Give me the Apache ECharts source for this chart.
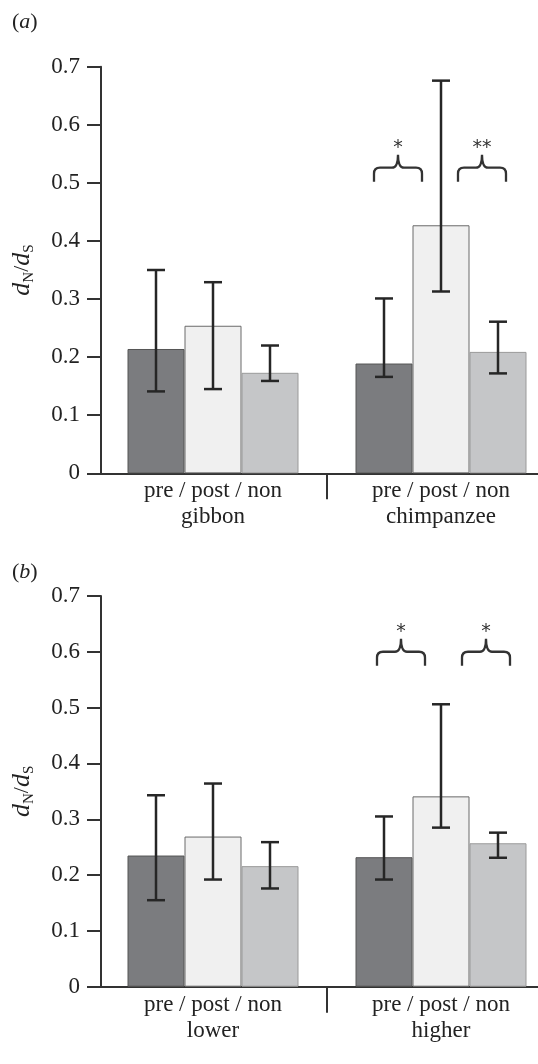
<!DOCTYPE html>
<html><head><meta charset="utf-8">
<script src="https://cdn.jsdelivr.net/npm/echarts@6/dist/echarts.min.js"></script>
<style>html,body{margin:0;padding:0;background:#fff;overflow:hidden}#c{width:556px;height:1064px}</style>
</head><body><div id="c"></div>
<script>
// ---------- data ----------
const groupsA = ['gibbon', 'chimpanzee'];
const groupsB = ['lower', 'higher'];
const subLabel = 'pre / post / non';
const yTickLabels = ['0', '0.1', '0.2', '0.3', '0.4', '0.5', '0.6', '0.7'];

const preA  = [0.214, 0.189];
const postA = [0.254, 0.427];
const nonA  = [0.173, 0.209];
const errPreA  = [[0.141, 0.350], [0.166, 0.301]];
const errPostA = [[0.145, 0.329], [0.313, 0.676]];
const errNonA  = [[0.159, 0.220], [0.172, 0.261]];

const preB  = [0.235, 0.232];
const postB = [0.269, 0.341];
const nonB  = [0.216, 0.257];
const errPreB  = [[0.155, 0.343], [0.192, 0.305]];
const errPostB = [[0.192, 0.364], [0.285, 0.506]];
const errNonB  = [[0.176, 0.259], [0.231, 0.276]];

const sigA = ['*', '**'];
const sigB = ['*', '*'];
const braceLevelA = 0.502;
const braceLevelB = 0.575;

// ---------- styles ----------
const FONT = 'Liberation Serif';
const barW = 57;
const fills = ['#7b7c7f', '#f0f0f0', '#c5c6c8'];
const borders = ['#555555', '#6a6a6a', '#9a9a9a'];
const ink = '#262626';

function errSeries(err, k, gi) {
  return {
    type: 'custom', xAxisIndex: gi, yAxisIndex: gi, z: 5,
    data: err.map((e, i) => [i, e[0], e[1]]),
    encode: { x: 0, y: [1, 2] },
    renderItem: function (params, api) {
      const lo = api.coord([api.value(0), api.value(1)]);
      const hi = api.coord([api.value(0), api.value(2)]);
      const x = lo[0] + (k - 1) * barW;
      const cap = 9;
      const st = { stroke: ink, lineWidth: 2.5 };
      return { type: 'group', children: [
        { type: 'line', shape: { x1: x, y1: hi[1], x2: x, y2: lo[1] }, style: st },
        { type: 'line', shape: { x1: x - cap, y1: hi[1], x2: x + cap, y2: hi[1] }, style: st },
        { type: 'line', shape: { x1: x - cap, y1: lo[1], x2: x + cap, y2: lo[1] }, style: st }
      ] };
    }
  };
}

// separator tick between the two category bands, placed through the axis scale
function sepSeries(gi) {
  return {
    type: 'custom', xAxisIndex: gi, yAxisIndex: gi, z: 4, silent: true,
    data: [[1, 0]],
    encode: { x: 0, y: 1 },
    renderItem: function (params, api) {
      const p = api.coord([api.value(0), api.value(1)]);
      const band = api.size([1, 0])[0];
      const x = p[0] - band / 2;
      return { type: 'line', shape: { x1: x, y1: p[1], x2: x, y2: p[1] + 26 },
        style: { stroke: '#333', lineWidth: 2 } };
    }
  };
}

function braceSeries(sig, level, offsets, gi) {
  return {
    type: 'custom', xAxisIndex: gi, yAxisIndex: gi, z: 6,
    data: sig.map((s, i) => [1, level, i]),
    encode: { x: 0, y: 1 },
    renderItem: function (params, api) {
      const p = api.coord([api.value(0), api.value(1)]);
      const idx = api.value(2);
      const cx = p[0] + offsets[idx];
      const y0 = p[1];
      const h = 24, r = 6;
      const yh = y0 - 14, yp = y0 - 27;
      const d = 'M' + (cx - h) + ' ' + y0 +
        ' L' + (cx - h) + ' ' + (yh + r) +
        ' Q' + (cx - h) + ' ' + yh + ' ' + (cx - h + r) + ' ' + yh +
        ' L' + (cx - r) + ' ' + yh +
        ' Q' + cx + ' ' + yh + ' ' + cx + ' ' + yp +
        ' Q' + cx + ' ' + yh + ' ' + (cx + r) + ' ' + yh +
        ' L' + (cx + h - r) + ' ' + yh +
        ' Q' + (cx + h) + ' ' + yh + ' ' + (cx + h) + ' ' + (yh + r) +
        ' L' + (cx + h) + ' ' + y0;
      return { type: 'group', children: [
        { type: 'path', shape: { pathData: d }, style: { stroke: '#333', lineWidth: 2.3, fill: null } },
        { type: 'text', style: { text: sig[idx], x: cx, y: y0 - 34, align: 'center', verticalAlign: 'middle',
          fontFamily: 'DejaVu Sans', fontSize: 19, fill: '#333' } }
      ] };
    }
  };
}

function barSeries(vals, k, gi, name) {
  return {
    type: 'bar', name: name, xAxisIndex: gi, yAxisIndex: gi, data: vals,
    barWidth: barW, barGap: '0%', z: 2,
    itemStyle: { color: fills[k], borderColor: borders[k], borderWidth: 1 }
  };
}

function xAxisFor(cats, gi) {
  return {
    type: 'category', gridIndex: gi, data: cats,
    axisLine: { lineStyle: { color: '#333', width: 2 } },
    axisTick: { show: false },
    axisLabel: { interval: 0, margin: 5, fontFamily: FONT, fontSize: 23, color: '#222', lineHeight: 26,
      formatter: function (v) { return subLabel + '\n' + v; } },
    splitLine: { show: false }
  };
}

function yAxisFor(gi) {
  return {
    type: 'value', gridIndex: gi, min: 0, max: 0.7, interval: 0.1, offset: -2,
    name: '{d|d}{s|N}{n|/}{d|d}{s|S}',
    nameLocation: 'middle', nameRotate: 90, nameGap: 64,
    nameTextStyle: { color: '#222', rich: {
      d: { fontFamily: FONT, fontSize: 26, fontStyle: 'italic', color: '#222', lineHeight: 28 },
      n: { fontFamily: FONT, fontSize: 22, color: '#222', lineHeight: 28 },
      s: { fontFamily: FONT, fontSize: 15, color: '#222', padding: [14, 0, 0, 0] }
    } },
    axisLine: { show: true, lineStyle: { color: '#333', width: 2 } },
    axisTick: { show: true, length: 14, lineStyle: { color: '#333', width: 2 } },
    axisLabel: { margin: 21, fontFamily: FONT, fontSize: 23, color: '#222',
      formatter: function (v) { return yTickLabels[Math.round(v * 10)]; } },
    splitLine: { show: false }
  };
}

const titleRich = {
  p: { fontFamily: FONT, fontSize: 22, fontWeight: 'normal', color: '#222' },
  i: { fontFamily: FONT, fontSize: 22, fontWeight: 'normal', fontStyle: 'italic', color: '#222' }
};

const chart = echarts.init(document.getElementById('c'), null, { renderer: 'canvas' });
chart.setOption({
  backgroundColor: '#ffffff',
  animation: false,
  title: [
    { text: '{p|(}{i|a}{p|)}', left: 7, top: 6, textStyle: { fontWeight: 'normal', rich: titleRich } },
    { text: '{p|(}{i|b}{p|)}', left: 7, top: 556, textStyle: { fontWeight: 'normal', rich: titleRich } }
  ],
  grid: [
    { left: 99, top: 66.7, width: 456, height: 406.6 },
    { left: 99, top: 596, width: 456, height: 390.7 }
  ],
  xAxis: [xAxisFor(groupsA, 0), xAxisFor(groupsB, 1)],
  yAxis: [yAxisFor(0), yAxisFor(1)],
  series: [
    barSeries(preA, 0, 0, 'pre'), barSeries(postA, 1, 0, 'post'), barSeries(nonA, 2, 0, 'non'),
    errSeries(errPreA, 0, 0), errSeries(errPostA, 1, 0), errSeries(errNonA, 2, 0),
    braceSeries(sigA, braceLevelA, [-43, 41], 0), sepSeries(0),
    barSeries(preB, 0, 1, 'pre'), barSeries(postB, 1, 1, 'post'), barSeries(nonB, 2, 1, 'non'),
    errSeries(errPreB, 0, 1), errSeries(errPostB, 1, 1), errSeries(errNonB, 2, 1),
    braceSeries(sigB, braceLevelB, [-40, 45], 1), sepSeries(1)
  ]
});
</script></body></html>
